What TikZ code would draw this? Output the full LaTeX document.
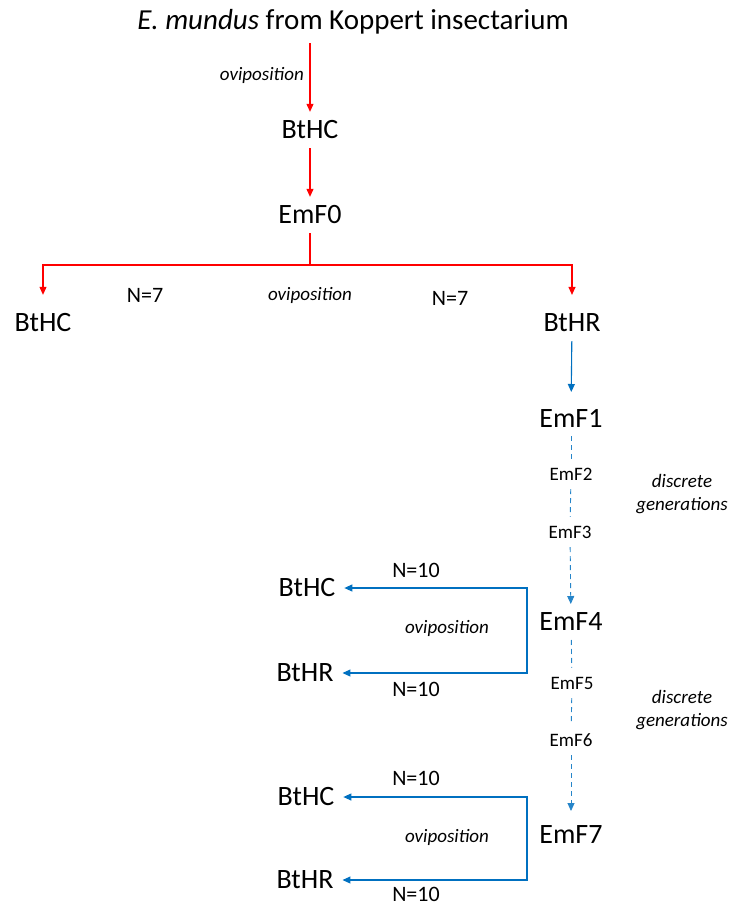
\documentclass[tikz,border=0pt]{standalone}
\usepackage{fontspec}
\setmainfont{Carlito}
\usepackage{xcolor}
\usetikzlibrary{arrows.meta}
\definecolor{OviRed}{HTML}{FF0000}
\definecolor{GenBlue}{HTML}{0070C0}

\begin{document}
\begin{tikzpicture}[x=1pt,y=-1pt,
    bignode/.style={font=\fontsize{28}{34}\selectfont,inner sep=3pt,outer sep=6pt},
    smallnode/.style={font=\fontsize{19}{23}\selectfont,inner sep=3pt,outer sep=6pt},
    ovilabel/.style={font=\fontsize{19}{23}\selectfont\itshape,inner sep=1pt,align=center},
    countlabel/.style={font=\fontsize{22}{26}\selectfont,inner sep=1pt},
    redarrow/.style={OviRed,line width=1.1pt,-{Triangle[width=7pt,length=8pt]}},
    bluearrow/.style={GenBlue,line width=1.1pt,-{Triangle[width=7pt,length=8pt]}},
    bluedash/.style={GenBlue!85,line width=0.9pt,dash pattern=on 5pt off 4pt}]
        \useasboundingbox (0,0) rectangle (730,906);
        % parental line from the insectarium
        \node[bignode,font=\fontsize{29}{35}\selectfont] (src) at (353,22) {\textit{E. mundus} from Koppert insectarium};
        \node[bignode] (hc0) at (310,130) {BtHC};
        \node[bignode] (f0) at (310,215) {EmF0};
        \node[ovilabel,anchor=east] (ovi0) at (305,75) {oviposition};
        \draw[redarrow] (hc0 |- src.south) -- (hc0);
        \draw[redarrow] (hc0) -- (f0);
        % split of EmF0 over the two host lines
        \coordinate (split) at (310,265);
        \node[bignode] (hcl) at (43,323) {BtHC};
        \node[bignode] (hrr) at (572,323) {BtHR};
        \node[countlabel] (n7a) at (145,295) {N=7};
        \node[ovilabel] (ovi1) at (310,295) {oviposition};
        \node[countlabel] (n7b) at (450,298) {N=7};
        \draw[OviRed,line width=1.1pt] (f0) -- (split);
        \draw[redarrow,shorten >=10pt] (split) -| (hcl);
        \draw[redarrow,shorten >=10pt] (split) -| (hrr);
        % generations on BtHR
        \node[bignode] (f1) at (571,418) {EmF1};
        \node[smallnode] (f2) at (571,474) {EmF2};
        \node[smallnode] (f3) at (570,532) {EmF3};
        \node[bignode] (f4) at (571,622) {EmF4};
        \node[smallnode] (f5) at (572,683) {EmF5};
        \node[smallnode] (f6) at (571,740) {EmF6};
        \node[bignode] (f7) at (571,835) {EmF7};
        \node[ovilabel] (gen1) at (682,494) {discrete\\generations};
        \node[ovilabel] (gen2) at (682,710) {discrete\\generations};
        \draw[bluearrow,shorten >=8pt] (hrr) -- (f1);
        \draw[bluedash] (f1) -- (f2);
        \draw[bluedash] (f2) -- (f3);
        \draw[bluedash,-{Triangle[width=7pt,length=8pt]}] (f3) -- (f4);
        \draw[bluedash] (f4) -- (f5);
        \draw[bluedash] (f5) -- (f6);
        \draw[bluedash,-{Triangle[width=7pt,length=8pt]},shorten >=6pt] (f6) -- (f7);
        % test hosts for EmF4
        \coordinate (k4) at (527,630);
        \node[bignode] (hc4) at (307,588) {BtHC};
        \node[bignode] (hr4) at (305,673) {BtHR};
        \node[countlabel] (n10a) at (416,570) {N=10};
        \node[ovilabel] (ovi4) at (447,628) {oviposition};
        \node[countlabel] (n10b) at (416,689) {N=10};
        \draw[bluearrow] (k4) |- (hc4);
        \draw[bluearrow] (k4) |- (hr4);
        % test hosts for EmF7
        \coordinate (k7) at (527,838);
        \node[bignode] (hc7) at (306,797) {BtHC};
        \node[bignode] (hr7) at (305,880) {BtHR};
        \node[countlabel] (n10c) at (416,778) {N=10};
        \node[ovilabel] (ovi7) at (447,837) {oviposition};
        \node[countlabel] (n10d) at (416,894) {N=10};
        \draw[bluearrow] (k7) |- (hc7);
        \draw[bluearrow] (k7) |- (hr7);
      \end{tikzpicture}
\end{document}
